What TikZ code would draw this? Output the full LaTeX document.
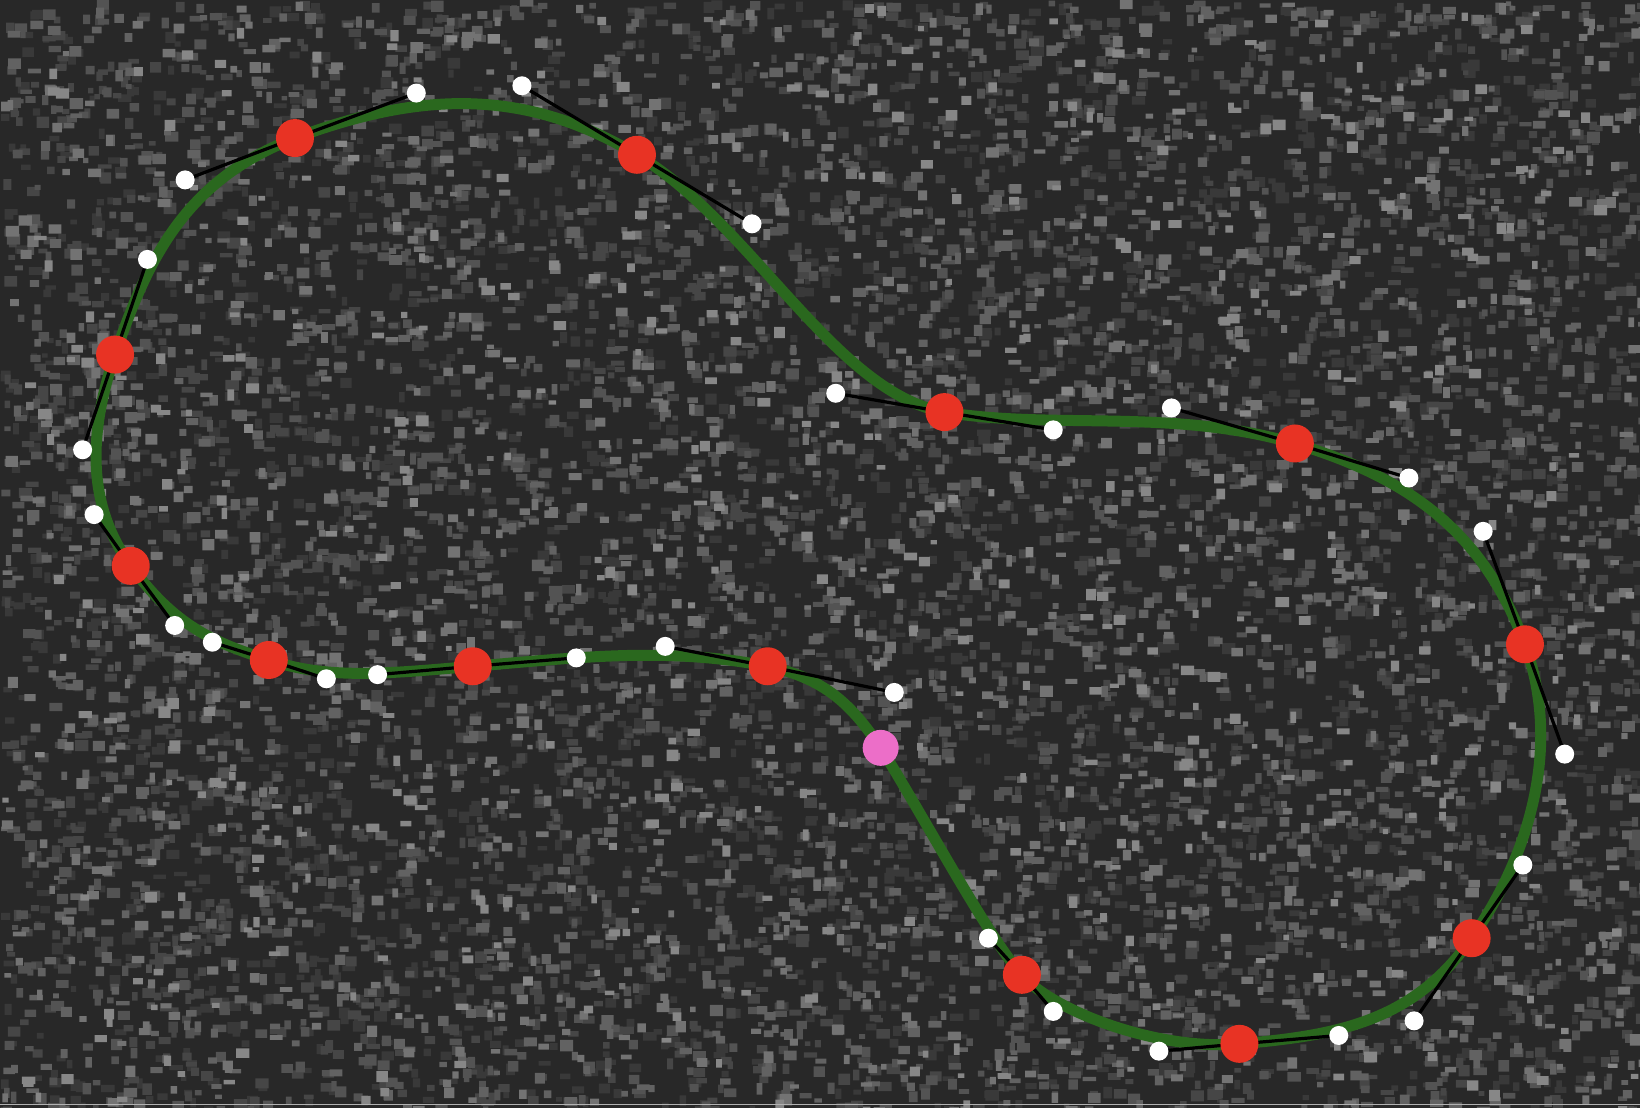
\documentclass[tikz,border=0pt]{standalone}
\definecolor{bgdark}{RGB}{40,40,40}
\definecolor{pathgreen}{RGB}{42,104,30}
\definecolor{knotred}{RGB}{232,51,36}
\definecolor{selpink}{RGB}{236,110,200}
\begin{document}
\begin{tikzpicture}[x=0.52296pt,y=-0.52296pt,
    knot/.style={circle,fill=knotred,inner sep=0pt,minimum size=19pt},
    handledot/.style={circle,fill=white,inner sep=0pt,minimum size=9.5pt},
    handle/.style={black,line width=1.6pt},
    spline/.style={pathgreen,line width=5.5pt,line join=round}]

    % background with speckle noise, one path per grey level
    \useasboundingbox (0,0) rectangle (1568,1059);
    \fill [bgdark] (0,0) rectangle (1568,1059);
    \pgfmathsetseed{4242}
    \foreach \g/\m in {8/2600,14/2400,20/2000,27/1500,35/1000,44/500}{
        \fill [white!\g!bgdark] \foreach \i in {1,...,\m}{ (1568*rnd,1059*rnd) rectangle ++(5+8*rnd,4+7*rnd) };
    }
    \draw [gray!60,line width=0.8pt] (0,1056) -- (1568,1056);

    % anchors and their handles
    \coordinate (k1) at (282,132);   \coordinate (h1a) at (177,172);   \coordinate (h1b) at (398,89);
    \coordinate (k2) at (609,148);   \coordinate (h2a) at (499,82);    \coordinate (h2b) at (719,214);
    \coordinate (k3) at (903,394);   \coordinate (h3a) at (799,376);   \coordinate (h3b) at (1007,411);
    \coordinate (k4) at (1238,424);  \coordinate (h4a) at (1120,390);  \coordinate (h4b) at (1347,457);
    \coordinate (k5) at (1458,616);  \coordinate (h5a) at (1418,508);  \coordinate (h5b) at (1496,721);
    \coordinate (k6) at (1407,897);  \coordinate (h6a) at (1456,827);  \coordinate (h6b) at (1352,976);
    \coordinate (k7) at (1185,998);  \coordinate (h7a) at (1280,990);  \coordinate (h7b) at (1108,1005);
    \coordinate (k8) at (977,932);   \coordinate (h8a) at (1007,967);  \coordinate (h8b) at (945,897);
    \coordinate (k9) at (734,637);   \coordinate (h9a) at (855,662);   \coordinate (h9b) at (636,618);
    \coordinate (k10) at (452,637);  \coordinate (h10a) at (551,629);  \coordinate (h10b) at (361,645);
    \coordinate (k11) at (257,631);  \coordinate (h11a) at (312,649);  \coordinate (h11b) at (203,614);
    \coordinate (k12) at (125,541);  \coordinate (h12a) at (167,598);  \coordinate (h12b) at (90,492);
    \coordinate (k13) at (110,339);  \coordinate (h13a) at (79,430);   \coordinate (h13b) at (141,248);
    \coordinate (sel) at (842,715);  \coordinate (sela) at (880,775);  \coordinate (selb) at (815,675);
    \coordinate (h9s) at (790,649);

    % the spline
    \draw [spline] (k1) .. controls (h1b) and (h2a) .. (k2)
        .. controls (h2b) and (h3a) .. (k3)
        .. controls (h3b) and (h4a) .. (k4)
        .. controls (h4b) and (h5a) .. (k5)
        .. controls (h5b) and (h6a) .. (k6)
        .. controls (h6b) and (h7a) .. (k7)
        .. controls (h7b) and (h8a) .. (k8)
        .. controls (h8b) and (sela) .. (sel)
        .. controls (selb) and (h9s) .. (k9)
        .. controls (h9b) and (h10a) .. (k10)
        .. controls (h10b) and (h11a) .. (k11)
        .. controls (h11b) and (h12a) .. (k12)
        .. controls (h12b) and (h13a) .. (k13)
        .. controls (h13b) and (h1a) .. (k1);

    % handles
    \foreach \n in {1,...,13}{
        \draw [handle] (h\n a) -- (k\n) -- (h\n b);
        \node [handledot] (H\n a) at (h\n a) {};
        \node [handledot] (H\n b) at (h\n b) {};
        \node [knot] (K\n) at (k\n) {};
    }
    \node [knot,fill=selpink,minimum size=18pt] (S) at (sel) {};
\end{tikzpicture}
\end{document}
